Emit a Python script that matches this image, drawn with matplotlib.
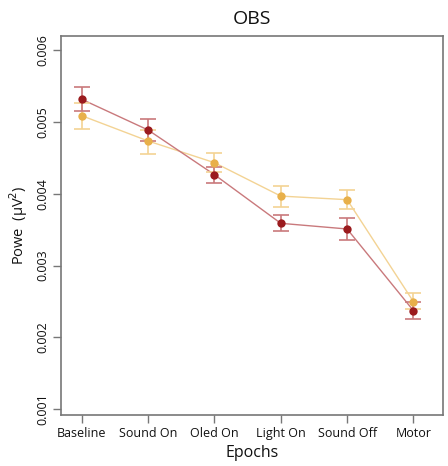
import numpy as np
import matplotlib
matplotlib.use("Agg")
import matplotlib.pyplot as plt

plt.rcParams['font.family'] = ['Open Sans', 'DejaVu Sans']

epochs = ['Baseline', 'Sound On', 'Oled On', 'Light On', 'Sound Off', 'Motor']

red_mean = [0.005314, 0.004887, 0.004265, 0.003588, 0.003509, 0.002372]
red_upper = [0.005481, 0.005036, 0.004376, 0.003704, 0.003662, 0.002498]
red_lower = [0.005155, 0.004740, 0.004153, 0.003477, 0.003356, 0.002252]

orange_mean = [0.005086, 0.004734, 0.004432, 0.003967, 0.003917, 0.002497]
orange_upper = [0.005258, 0.004886, 0.004571, 0.004107, 0.004048, 0.002614]
orange_lower = [0.004905, 0.004557, 0.004298, 0.003819, 0.003783, 0.002398]

yticks = [0.001, 0.002, 0.003, 0.004, 0.005, 0.006]


def draw_series(ax, x, mean, lo, hi, dot_col, line_col):
    mean = np.array(mean)
    err = [mean - np.array(lo), np.array(hi) - mean]
    ax.plot(x, mean, color=line_col, lw=1.0, zorder=2)
    ax.errorbar(x, mean, yerr=err, fmt='none', ecolor=line_col, elinewidth=1.2,
                capsize=6, capthick=1.2, zorder=3)
    ax.plot(x, mean, 'o', color=dot_col, ms=6, zorder=4, mec='none')


fig = plt.figure(figsize=(4.48, 4.66), dpi=100)
ax = fig.add_axes([60.7 / 448, 1 - 415 / 466, (443.3 - 60.7) / 448, (415 - 36) / 466])

x = np.arange(1, len(epochs) + 1)
draw_series(ax, x, orange_mean, orange_lower, orange_upper, '#e8b04a', '#f3d394')
draw_series(ax, x, red_mean, red_lower, red_upper, '#9b1b1e', '#c9797c')

ax.set_xlim(0.683, 6.45)
ax.set_ylim(0.00092, 0.006195)
ax.set_xticks(x)
ax.set_xticklabels(epochs, fontsize=9, color='#111111')
ax.set_yticks(yticks)
ax.set_yticklabels(['%.3f' % v for v in yticks], fontsize=9, color='#111111',
                   rotation=90, va='center')
ax.tick_params(axis='both', length=5.5, color='#777777', width=1)
ax.tick_params(axis='x', pad=3)
ax.tick_params(axis='y', pad=3)
for s in ax.spines.values():
    s.set_color('#777777')
    s.set_linewidth(1.2)

ax.set_xlabel('Epochs', fontsize=11.5, labelpad=4, color='#111111')
ax.set_ylabel('Powe  (\u03bcV$^2$)', fontsize=10.5, labelpad=4, color='#111111')
ax.set_title('OBS', fontsize=14, pad=9, color='#111111')

fig.savefig('out.png', dpi=100)
